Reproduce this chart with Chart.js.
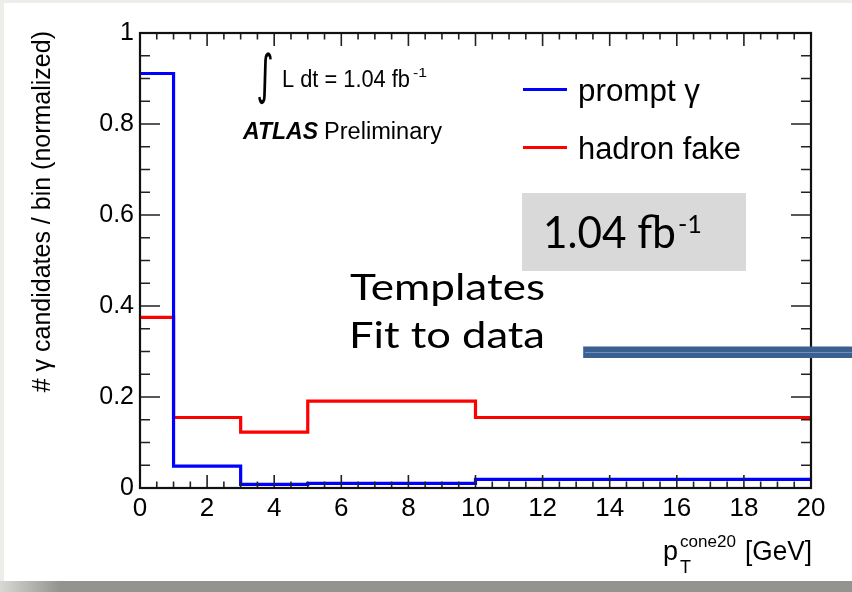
<!DOCTYPE html>
<html>
<head>
<meta charset="utf-8">
<script src="https://cdn.jsdelivr.net/npm/chart.js@4.4.1/dist/chart.umd.min.js"></script>
<style>
  html, body { margin: 0; padding: 0; background: #fff; }
  #wrap { width: 852px; height: 592px; position: relative; }
</style>
</head>
<body>
<div id="wrap"><canvas id="isoChart"></canvas></div>
<script>
// histogram binning in p_T^cone20 [GeV]
const BIN_EDGES = [0, 1, 3, 5, 10, 20];
// normalized template contents per bin
const PROMPT_GAMMA = [0.911, 0.048, 0.008, 0.010, 0.019];
const HADRON_FAKE = [0.375, 0.155, 0.123, 0.191, 0.155];

const X_RANGE = [0, 20];
const Y_RANGE = [0, 1];
const X_STEP = 2;
const Y_STEP = 0.2;

const FONT = "'Liberation Sans', Arial, sans-serif";
const SLIDE_FONT = "Lato, 'Open Sans', sans-serif";

// turn bin contents into points for a stepped line (last edge repeats last value)
function stepPoints(values) {
  const pts = values.map((v, i) => ({ x: BIN_EDGES[i], y: v }));
  pts.push({ x: BIN_EDGES[BIN_EDGES.length - 1], y: values[values.length - 1] });
  return pts;
}

// draw text squeezed/stretched to a given width
function fitText(ctx, text, x, y, font, width) {
  ctx.font = font;
  const w = ctx.measureText(text).width;
  ctx.save();
  ctx.translate(x, y);
  ctx.scale(width / w, 1);
  ctx.fillText(text, 0, 0);
  ctx.restore();
}

// draw a glyph scaled so its ink fills a box
function fitBox(ctx, text, font, x0, y0, x1, y1) {
  ctx.font = font;
  const m = ctx.measureText(text);
  const iw = m.actualBoundingBoxLeft + m.actualBoundingBoxRight;
  const ih = m.actualBoundingBoxAscent + m.actualBoundingBoxDescent;
  ctx.save();
  ctx.translate(x0, y0);
  ctx.scale((x1 - x0) / iw, (y1 - y0) / ih);
  ctx.fillText(text, m.actualBoundingBoxLeft, m.actualBoundingBoxAscent);
  ctx.restore();
}

const slideBackground = {
  id: "slideBackground",
  beforeDraw(chart) {
    const ctx = chart.ctx;
    ctx.save();
    ctx.fillStyle = "#eeede9";
    ctx.fillRect(0, 0, chart.width, chart.height);
    ctx.fillStyle = "#ffffff";
    ctx.fillRect(4, 3, chart.width - 4, 578);
    const g = ctx.createLinearGradient(0, 0, 60, 0);
    g.addColorStop(0, "#d8d8d5");
    g.addColorStop(1, "#939390");
    ctx.fillStyle = g;
    ctx.fillRect(0, 581, chart.width, chart.height - 581);
    ctx.restore();
  },
};

// ROOT-style frame with inward ticks on all four sides
const rootFrame = {
  id: "rootFrame",
  afterDatasetsDraw(chart) {
    const { ctx, chartArea: a, scales } = chart;
    const xs = scales.x, ys = scales.y;
    ctx.save();
    ctx.strokeStyle = "#222";
    ctx.lineWidth = 1.6;
    ctx.beginPath();
    for (let i = 0; i <= 40; i++) {
      const v = i * 0.5;
      const px = xs.getPixelForValue(v);
      const len = i % 4 === 0 ? 13 : 6.5;
      ctx.moveTo(px, a.bottom); ctx.lineTo(px, a.bottom - len);
      ctx.moveTo(px, a.top); ctx.lineTo(px, a.top + len);
    }
    for (let i = 0; i <= 20; i++) {
      const v = i * 0.05;
      const py = ys.getPixelForValue(v);
      const len = i % 4 === 0 ? 20 : 10;
      ctx.moveTo(a.left, py); ctx.lineTo(a.left + len, py);
      ctx.moveTo(a.right, py); ctx.lineTo(a.right - len, py);
    }
    ctx.stroke();
    ctx.strokeStyle = "#111";
    ctx.lineWidth = 2.2;
    ctx.strokeRect(a.left, a.top, a.right - a.left, a.bottom - a.top);
    ctx.restore();
  },
};

const annotations = {
  id: "annotations",
  afterDraw(chart) {
    const ctx = chart.ctx;
    ctx.save();
    ctx.fillStyle = "#000";
    ctx.textAlign = "left";
    ctx.textBaseline = "alphabetic";

    // y axis title
    ctx.save();
    ctx.translate(50, 31);
    ctx.rotate(-Math.PI / 2);
    ctx.textAlign = "right";
    ctx.font = "25px " + FONT;
    ctx.fillText("# \u03b3 candidates / bin (normalized)", 0, 0);
    ctx.restore();

    // x axis title
    fitText(ctx, "p", 663, 560, "27px " + FONT, 15);
    fitText(ctx, "cone20", 680, 547, "17px " + FONT, 56);
    fitText(ctx, "T", 680, 573, "18px " + FONT, 11);
    fitText(ctx, "[GeV]", 745, 560, "27px " + FONT, 67);

    // luminosity label
    fitBox(ctx, "\u222b", "60px 'DejaVu Sans'", 258, 52, 272, 105);
    fitText(ctx, "L dt = 1.04 fb", 282, 87, "23px " + FONT, 128);
    fitText(ctx, "-1", 413, 77, "13px " + FONT, 14);

    fitText(ctx, "ATLAS", 243, 139, "italic bold 23px " + FONT, 75);
    fitText(ctx, "Preliminary", 324, 139, "23px " + FONT, 118);

    // legend
    ctx.lineWidth = 3.2;
    ctx.strokeStyle = "#0000ff";
    ctx.beginPath(); ctx.moveTo(523, 89.5); ctx.lineTo(567, 89.5); ctx.stroke();
    ctx.strokeStyle = "#ff0000";
    ctx.beginPath(); ctx.moveTo(523, 147.5); ctx.lineTo(567, 147.5); ctx.stroke();
    fitText(ctx, "prompt \u03b3", 578, 101, "31px " + FONT, 122);
    fitText(ctx, "hadron fake", 578, 159, "31px " + FONT, 163);

    // slide overlays
    ctx.fillStyle = "#d9d9d9";
    ctx.fillRect(522, 193, 224, 78);
    ctx.fillStyle = "#000";
    fitText(ctx, "1.04 fb", 543, 248, "45px " + SLIDE_FONT, 133);
    fitText(ctx, "-1", 678, 233, "25px " + SLIDE_FONT, 24);
    fitText(ctx, "Templates", 350, 300, "37px " + SLIDE_FONT, 195);
    fitText(ctx, "Fit to data", 349, 348, "37px " + SLIDE_FONT, 196);

    ctx.fillStyle = "#3b5f8f";
    ctx.fillRect(583, 346.5, chart.width - 583, 11.5);
    ctx.strokeStyle = "#6f8fc2";
    ctx.lineWidth = 1;
    ctx.beginPath(); ctx.moveTo(585, 352.5); ctx.lineTo(chart.width, 352.5); ctx.stroke();
    ctx.strokeStyle = "#5d7fb0";
    ctx.beginPath(); ctx.moveTo(583.5, 347); ctx.lineTo(583.5, 358); ctx.stroke();
    ctx.restore();
  },
};

const ctx = document.getElementById("isoChart");
new Chart(ctx, {
  type: "line",
  data: {
    datasets: [
      {
        label: "prompt \u03b3",
        data: stepPoints(PROMPT_GAMMA),
        borderColor: "#0000ff",
        borderWidth: 3.2,
        stepped: "before",
        pointRadius: 0,
        fill: false,
      },
      {
        label: "hadron fake",
        data: stepPoints(HADRON_FAKE),
        borderColor: "#ff0000",
        borderWidth: 3.2,
        stepped: "before",
        pointRadius: 0,
        fill: false,
      },
    ],
  },
  options: {
    responsive: true,
    maintainAspectRatio: false,
    animation: false,
    layout: { padding: { top: 33, right: 41, left: 0, bottom: 0 } },
    plugins: { legend: { display: false }, tooltip: { enabled: false } },
    scales: {
      x: {
        type: "linear",
        min: X_RANGE[0],
        max: X_RANGE[1],
        afterFit: (s) => { s.height = 104; },
        grid: { display: false, drawTicks: false },
        border: { display: false },
        ticks: {
          stepSize: X_STEP,
          autoSkip: false,
          maxRotation: 0,
          padding: 5,
          color: "#000",
          font: { family: FONT, size: 26 },
        },
      },
      y: {
        min: Y_RANGE[0],
        max: Y_RANGE[1],
        afterFit: (s) => { s.width = 140; },
        grid: { display: false, drawTicks: false },
        border: { display: false },
        ticks: {
          stepSize: Y_STEP,
          padding: 6,
          color: "#000",
          font: { family: FONT, size: 25 },
          callback: (v) => String(parseFloat(v.toFixed(1))),
        },
      },
    },
  },
  plugins: [slideBackground, rootFrame, annotations],
});
</script>
</body>
</html>
